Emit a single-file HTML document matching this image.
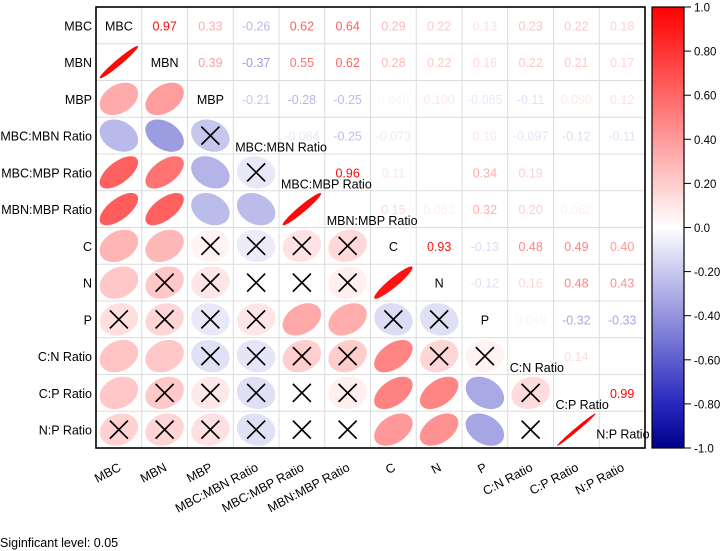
<!DOCTYPE html>
<html><head><meta charset="utf-8"><style>
html,body{margin:0;padding:0;background:#fff;}
svg{display:block;font-family:"Liberation Sans",Arial,sans-serif;}
</style></head><body>
<svg id="chart" width="727" height="551" viewBox="0 0 727 551" xmlns="http://www.w3.org/2000/svg"></svg>
<script>
const labels = ["MBC","MBN","MBP","MBC:MBN Ratio","MBC:MBP Ratio","MBN:MBP Ratio","C","N","P","C:N Ratio","C:P Ratio","N:P Ratio"];
// upper triangle rows (values for columns j>i)
const rMBC   = [0.97,0.33,-0.26,0.62,0.64,0.29,0.22,0.13,0.23,0.22,0.18];
const rMBN   = [0.39,-0.37,0.55,0.62,0.28,0.22,0.16,0.22,0.21,0.17];
const rMBP   = [-0.21,-0.28,-0.25,0.046,0.0996,-0.085,-0.11,0.090,0.12];
const rR1    = [-0.084,-0.25,-0.073,0.0,0.10,-0.097,-0.12,-0.11];
const rR2    = [0.96,0.11,0.0,0.34,0.19,0.0,0.0];
const rR3    = [0.15,0.063,0.32,0.20,0.062,0.0];
const rC     = [0.93,-0.13,0.48,0.49,0.40];
const rN     = [-0.12,0.16,0.48,0.43];
const rP     = [0.049,-0.32,-0.33];
const rCN    = [0.14,0.0];
const rCP    = [0.99];
const upperRows = [rMBC,rMBN,rMBP,rR1,rR2,rR3,rC,rN,rP,rCN,rCP];
// significance in lower triangle: 1 = significant (no cross), per row i for cols j<i
const sigRows = [
  [],
  [1],
  [1,1],
  [1,1,0],
  [1,1,1,0],
  [1,1,1,1,1],
  [1,1,0,0,0,0],
  [1,0,0,0,0,0,1],
  [0,0,0,0,1,1,0,0],
  [1,1,0,0,0,0,1,0,0],
  [1,0,0,0,0,0,1,1,1,0],
  [0,0,0,0,0,0,1,1,1,0,1]
];
const cbTicks = [1.0,0.8,0.6,0.4,0.2,0.0,-0.2,-0.4,-0.6,-0.8,-1.0];
const cbTickLabels = ["1.0","0.80","0.60","0.40","0.20","0.0","-0.20","-0.40","-0.60","-0.80","-1.0"];

const NS="http://www.w3.org/2000/svg";
const svg=document.getElementById('chart');
const L=96, T=7, R=645, B=448, n=labels.length;
const cw=(R-L)/n, ch=(B-T)/n;
const xc=j=>L+cw*(j+0.5), yc=i=>T+ch*(i+0.5);
function mk(tag,attrs,parent){const e=document.createElementNS(NS,tag);for(const k in attrs)e.setAttribute(k,attrs[k]);(parent||svg).appendChild(e);return e;}
function color(r){
  r=Math.max(-1,Math.min(1,r));
  if(r>=0){const v=Math.round(255*(1-r));return `rgb(255,${v},${v})`;}
  const a=-r;
  if(a<=0.8){const t=a/0.8;return `rgb(${Math.round(255-215*t)},${Math.round(255-215*t)},${Math.round(255-65*t)})`;}
  const t=(a-0.8)/0.2;return `rgb(${Math.round(40-40*t)},${Math.round(40-40*t)},${Math.round(190-50*t)})`;
}
function corr(i,j){if(i===j)return 1;const a=Math.min(i,j),b=Math.max(i,j);return upperRows[a][b-a-1];}
function fmt(r){return Math.abs(r)<0.1?r.toFixed(3):r.toFixed(2);}

const grid=mk('g',{});


for(let k=1;k<n;k++){
  mk('line',{x1:L+cw*k,x2:L+cw*k,y1:T,y2:B,stroke:'#dcdcdc','stroke-width':1},grid);
  mk('line',{x1:L,x2:R,y1:T+ch*k,y2:T+ch*k,stroke:'#dcdcdc','stroke-width':1},grid);
}

const cells=mk('g',{});


for(let i=0;i<n;i++){
  for(let j=0;j<n;j++){
    if(j>i){
      const r=corr(i,j);
      const t=mk('text',{x:xc(j),y:yc(i)+5,'text-anchor':'middle','font-size':12.5,fill:color(r)},cells);
      t.textContent=fmt(r);
      
      
    } else if(j<i){
      const r=corr(i,j);
      const ph=Math.acos(r)/2;
      let d='';
      for(let k=0;k<=72;k++){
        const th=2*Math.PI*k/72;
        const px=xc(j)+0.42*cw*Math.cos(th+ph);
        const py=yc(i)-0.44*ch*Math.cos(th-ph);
        d+=(k?'L':'M')+px.toFixed(2)+','+py.toFixed(2);
      }
      const e=mk('path',{d:d+'Z',fill:color(r)},cells);
      
      
      if(!sigRows[i][j]){
        const s=9,x=xc(j),y=yc(i);
        const c=mk('path',{d:`M${x-s},${y-s}L${x+s},${y+s}M${x+s},${y-s}L${x-s},${y+s}`,stroke:'#000','stroke-width':1.6},cells);
        
        
      }
    }
  }
}
for(let i=0;i<n;i++){
  const long=labels[i].length>3;
  let x=long?L+cw*i+2:xc(i), y=yc(i)+5+(long?11:0);
  if(i===11){y=yc(i)+9;x=L+cw*i-3;}
  const t=mk('text',{x:x,y:y,'text-anchor':long?'start':'middle','font-size':12.5,fill:'#000'});
  t.textContent=labels[i];
  
  
}
const fr=mk('rect',{x:L,y:T,width:R-L,height:B-T,fill:'none',stroke:'#000','stroke-width':1.6});


for(let i=0;i<n;i++){
  const t=mk('text',{x:92,y:yc(i)+5,'text-anchor':'end','font-size':12.5});
  t.textContent=labels[i];
  
  
}
for(let j=0;j<n;j++){
  const x=xc(j)+3,y=470;
  const t=mk('text',{x:x,y:y,'text-anchor':'end','font-size':12.5,transform:`rotate(-28 ${x} ${y})`});
  t.textContent=labels[j];
  
  
}
const CX=652,CW=32,CT=7,CB=448;
const defs=mk('defs',{});
const gr=mk('linearGradient',{id:'cbg',x1:0,y1:0,x2:0,y2:1},defs);
for(let k=0;k<=20;k++){const v=1-k/10;mk('stop',{offset:(k/20),'stop-color':color(v)},gr);}
const cb=mk('rect',{x:CX,y:CT,width:CW,height:CB-CT,fill:'url(#cbg)',stroke:'#000','stroke-width':1.2});


const cy=v=>CT+(1-v)/2*(CB-CT);
cbTicks.forEach((v,k)=>{
  mk('line',{x1:CX+CW,x2:CX+CW+7,y1:cy(v),y2:cy(v),stroke:'#000','stroke-width':1});
  const t=mk('text',{x:CX+CW+10,y:cy(v)+4.5,'font-size':11.5});
  t.textContent=cbTickLabels[k];
  
  
});
const note=mk('text',{x:0,y:547,'font-size':12.5});
note.textContent='Siginficant level: 0.05';


</script>
</body></html>
